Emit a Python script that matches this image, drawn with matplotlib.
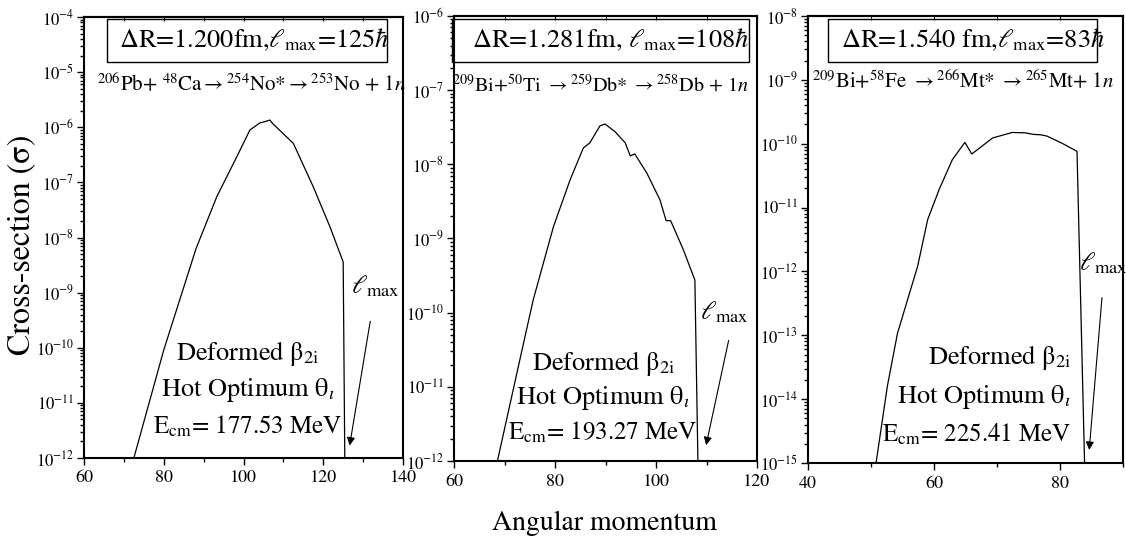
import numpy as np
import matplotlib
matplotlib.use("Agg")
import matplotlib.pyplot as plt
from matplotlib.ticker import LogLocator, MultipleLocator, NullFormatter
from matplotlib.patches import Rectangle

plt.rcParams['font.family'] = ['STIXGeneral', 'DejaVu Serif']
plt.rcParams['mathtext.fontset'] = 'stix'

# 206Pb + 48Ca -> 254No*
l_no = [72.5, 80.0, 88.1, 93.3, 98.3, 101.6, 104.1, 105.3, 106.6, 107.4,
        112.5, 117.5, 121.7, 125.0, 125.4]
sig_no = [1.0e-12, 9.1e-11, 6.3e-9, 5.5e-8, 2.9e-7, 8.9e-7, 1.2e-6, 1.26e-6,
          1.35e-6, 1.15e-6, 5.1e-7, 8.3e-8, 1.55e-8, 3.6e-9, 1.0e-12]

# 209Bi + 50Ti -> 259Db*
l_db = [68.6, 73.2, 75.7, 79.7, 83.0, 85.6, 86.9, 88.9, 89.9, 91.9, 93.9,
        94.9, 95.8, 98.2, 100.8, 102.0, 102.9, 105.4, 107.7, 108.3]
sig_db = [1.0e-12, 2.6e-11, 1.5e-10, 1.45e-9, 6.2e-9, 1.66e-8, 1.95e-8,
          3.3e-8, 3.5e-8, 2.75e-8, 1.95e-8, 1.3e-8, 1.38e-8, 7.6e-9, 3.3e-9,
          1.74e-9, 1.74e-9, 7.1e-10, 2.75e-10, 1.0e-12]

# 209Bi + 58Fe -> 266Mt*
l_mt = [50.8, 52.6, 54.2, 55.8, 57.4, 59.0, 60.8, 62.9, 64.9, 66.0, 69.3,
        72.4, 74.5, 75.8, 76.9, 77.9, 80.3, 82.7, 83.9]
sig_mt = [1.0e-15, 1.6e-14, 1.07e-13, 3.6e-13, 1.2e-12, 6.5e-12, 1.9e-11,
          5.6e-11, 1.05e-10, 6.9e-11, 1.23e-10, 1.5e-10, 1.48e-10, 1.4e-10,
          1.38e-10, 1.32e-10, 1.02e-10, 7.6e-11, 1.0e-15]

headers = [r"$\Delta$R=1.200fm,$\ell_{\rm max}$=125$\hbar$",
           r"$\Delta$R=1.281fm, $\ell_{\rm max}$=108$\hbar$",
           r"$\Delta$R=1.540 fm,$\ell_{\rm max}$=83$\hbar$"]
reactions = [r"$^{206}$Pb+ $^{48}$Ca$\rightarrow$$^{254}$No*$\rightarrow$$^{253}$No + $\mathit{1n}$",
             r"$^{209}$Bi+$^{50}$Ti $\rightarrow$$^{259}$Db* $\rightarrow$$^{258}$Db + $\mathit{1n}$",
             r"$^{209}$Bi+$^{58}$Fe $\rightarrow$$^{266}$Mt* $\rightarrow$$^{265}$Mt+ $\mathit{1n}$"]
react_size = [15, 14.5, 15]
energies = ["177.53", "193.27", "225.41"]

xlims = [(60, 140), (60, 120), (40, 90)]
ylims = [(1e-12, 1e-4), (1e-12, 1e-6), (1e-15, 1e-8)]

fig = plt.figure(figsize=(11.26, 5.43), dpi=100)
W, H = 1126, 543
# axes boxes in pixels: left, right, top, bottom
boxes = [(84, 403, 17, 458), (454, 757, 16, 461), (808, 1123, 16, 463)]

# per-panel placement (axes fractions)
hdr_box = [(0.072, 0.898, 0.878, 0.097), (-0.005, 0.897, 0.98, 0.096),
           (0.063, 0.897, 0.854, 0.096)]
hdr_x = [0.533, 0.515, 0.524]
react_pos = [(0.041, 0.846), (-0.008, 0.847), (0.013, 0.852)]
note_x = [0.514, 0.492, 0.835]
note_ha = ['center', 'center', 'right']
note_y = [(0.238, 0.154, 0.070), (0.220, 0.142, 0.063), (0.237, 0.148, 0.063)]
lmax_txt = [(127.0, 1.3e-9), (108.8, 1.0e-10), (83.0, 1.35e-12)]
lmax_arrow = [((131.9, 3.4e-10), (126.5, 1.5e-12)),
              ((114.5, 4.6e-11), (109.8, 1.5e-12)),
              ((86.7, 4.3e-13), (84.6, 1.45e-15))]

series = [(l_no, sig_no), (l_db, sig_db), (l_mt, sig_mt)]

for i, (l, s) in enumerate(series):
    x0, x1, y0, y1 = boxes[i]
    ax = fig.add_axes([x0 / W, 1 - y1 / H, (x1 - x0) / W, (y1 - y0) / H])
    ax.plot(l, s, color='black', lw=0.9)
    ax.set_yscale('log')
    ax.set_xlim(*xlims[i])
    ax.set_ylim(*ylims[i])
    ax.xaxis.set_major_locator(MultipleLocator(20))
    ax.xaxis.set_minor_locator(MultipleLocator(10))
    ax.yaxis.set_major_locator(LogLocator(base=10, numticks=20))
    ax.yaxis.set_minor_locator(LogLocator(base=10, subs=np.arange(2, 10), numticks=20))
    ax.yaxis.set_minor_formatter(NullFormatter())
    ax.tick_params(axis='both', which='both', direction='out', width=1.0)
    ax.tick_params(axis='both', which='major', length=5)
    ax.tick_params(axis='both', which='minor', length=3)
    ax.tick_params(axis='x', labelsize=13, pad=4)
    ax.tick_params(axis='y', labelsize=12, pad=2)
    for sp in ax.spines.values():
        sp.set_linewidth(1.5)

    top = ax.secondary_xaxis('top')
    top.xaxis.set_major_locator(MultipleLocator(20))
    top.xaxis.set_minor_locator(MultipleLocator(10))
    top.tick_params(which='both', direction='in', length=3, labeltop=False)
    top.spines['top'].set_linewidth(1.5)

    bx, by, bw, bh = hdr_box[i]
    ax.add_patch(Rectangle((bx, by), bw, bh, transform=ax.transAxes,
                           fill=False, lw=1.0, ec='black', clip_on=False))
    ax.text(hdr_x[i], by + bh / 2, headers[i], transform=ax.transAxes,
            ha='center', va='center', fontsize=19)
    ax.text(*react_pos[i], reactions[i], transform=ax.transAxes,
            ha='left', va='center', fontsize=react_size[i])

    ax.text(note_x[i], note_y[i][0], r"Deformed β$_{\rm 2i}$",
            transform=ax.transAxes, ha=note_ha[i], va='center', fontsize=19)
    ax.text(note_x[i], note_y[i][1], r"Hot Optimum θ$_{\iota}$",
            transform=ax.transAxes, ha=note_ha[i], va='center', fontsize=19)
    ax.text(note_x[i], note_y[i][2], r"E$_{\rm cm}$= %s MeV" % energies[i],
            transform=ax.transAxes, ha=note_ha[i], va='center', fontsize=18)

    ax.text(*lmax_txt[i], r"$\ell_{\rm max}$", ha='left', va='center',
            fontsize=19)
    start, end = lmax_arrow[i]
    ax.annotate('', xy=end, xytext=start,
                arrowprops=dict(arrowstyle='-|>', color='black', lw=0.8,
                                mutation_scale=12))

fig.text(0.0195, 0.549, "Cross-section (σ)", rotation=90, ha='center',
         va='center', fontsize=23)
fig.text(0.537, 0.036, "Angular momentum", ha='center', va='center',
         fontsize=20)

fig.savefig("out.png", dpi=100)
